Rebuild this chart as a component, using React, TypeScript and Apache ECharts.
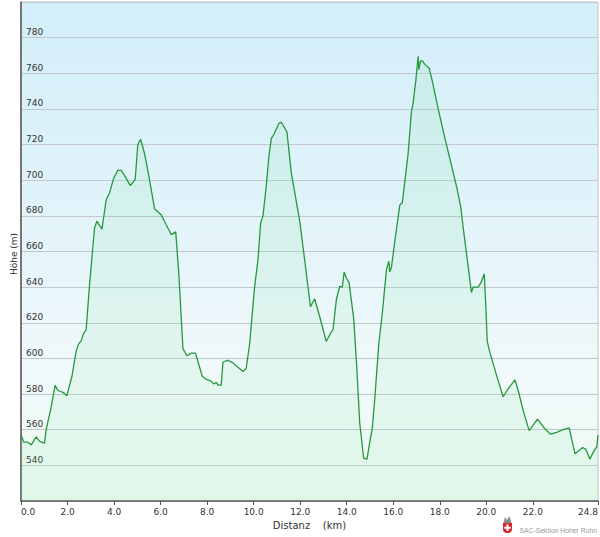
import React, { useEffect, useRef } from "react";
import * as echarts from "echarts";

const distanceKm = [
  0, 0.12, 0.29, 0.44, 0.65, 0.8, 1.01, 1.08, 1.27, 1.47, 1.58, 1.8, 1.97, 2.19, 2.37, 2.47, 2.59, 2.69, 2.8, 2.95,
  3.16, 3.26, 3.48, 3.66, 3.81, 3.98, 4.16, 4.31, 4.48, 4.7, 4.91, 5.02, 5.14, 5.31, 5.5, 5.74, 6.03, 6.24, 6.46, 6.65,
  6.79, 6.96, 7.13, 7.32, 7.5, 7.79, 7.96, 8.18, 8.28, 8.39, 8.47, 8.61, 8.68, 8.9, 9.11, 9.54, 9.68, 9.83, 10.04, 10.19,
  10.3, 10.4, 10.54, 10.66, 10.76, 10.86, 11.09, 11.19, 11.26, 11.43, 11.62, 11.98, 12.19, 12.44, 12.62, 12.87, 13.12, 13.34, 13.41, 13.56,
  13.7, 13.81, 13.89, 13.99, 14.1, 14.3, 14.42, 14.56, 14.73, 14.87, 14.99, 15.1, 15.2, 15.38, 15.53, 15.71, 15.81, 15.85, 15.92, 16.07,
  16.28, 16.39, 16.54, 16.64, 16.78, 16.85, 16.97, 17.07, 17.1, 17.17, 17.25, 17.36, 17.54, 17.68, 17.93, 18.22, 18.5, 18.72, 18.9, 19.0,
  19.22, 19.36, 19.43, 19.65, 19.79, 19.91, 19.98, 20.04, 20.15, 20.44, 20.72, 20.94, 21.23, 21.37, 21.58, 21.84, 22.2, 22.52, 22.76, 23.02,
  23.3, 23.56, 23.81, 24.14, 24.28, 24.45, 24.62, 24.75, 24.8,
];

const elevationM = [
  557, 553, 553, 551.5, 556, 553.5, 552.5, 560, 571, 585, 582, 581, 579, 590, 604, 608, 610, 614, 616, 642,
  673, 677, 672.5, 689, 693, 701, 705.5, 705.5, 702, 697, 700.5, 720, 723, 715, 702, 684, 680.5, 675, 669.5, 671,
  646, 605.5, 601.5, 603, 603, 590, 588.3, 587.3, 585.7, 586.5, 585, 585, 598, 599, 597.5, 592.7, 594.5, 608.5, 640, 656,
  676, 680, 696.5, 714, 723.5, 725.5, 732, 732.5, 731, 727, 704, 677, 655.5, 629, 633.5, 622, 609.5, 615, 616, 633.5,
  640.5, 640, 648.5, 645, 642.5, 622.5, 597.5, 563.5, 544, 543.5, 553, 561, 576.5, 608.5, 625.5, 650, 654.5, 648.5, 651, 666,
  686, 687.5, 704, 715, 738.5, 743, 756, 769.5, 762, 767, 767, 765, 763, 755.5, 740, 723.5, 708.5, 696.5, 685, 674,
  651.5, 637, 640, 640, 643, 647.5, 629, 609.5, 603.5, 590.5, 578.5, 583, 588, 582, 571, 559.5, 566, 560.5, 557.5, 558.5,
  560, 561, 546.5, 550, 549, 543.5, 548, 550.5, 557,
];

const xTickValues = [0, 2, 4, 6, 8, 10, 12, 14, 16, 18, 20, 22, 24.8];
const yMin = 520;
const yMax = 800;
const yStep = 20;
const xMax = 24.8;

const FONT = "DejaVu Sans";

export default function App() {
  const ref = useRef<HTMLDivElement>(null);

  useEffect(() => {
    if (!ref.current) return;
    const chart = echarts.init(ref.current, null, { renderer: "svg" });
    const data = distanceKm.map((d, i) => [d, elevationM[i]]);

    chart.setOption({
      animation: false,
      backgroundColor: "#ffffff",
      grid: {
        left: 21,
        right: 2,
        top: 2,
        bottom: 36,
        outerBoundsMode: "none",
        containLabel: false,
        show: true,
        borderColor: "#c4c4c4",
        borderWidth: 1,
        backgroundColor: new echarts.graphic.LinearGradient(0, 0, 0, 1, [
          { offset: 0, color: "#d2eef9" },
          { offset: 0.45, color: "#e3f4fa" },
          { offset: 0.75, color: "#f1f9fb" },
          { offset: 1, color: "#ecfaf1" },
        ]),
      },
      xAxis: {
        type: "value",
        min: 0,
        max: xMax,
        interval: 2,
        name: "Distanz    (km)",
        nameLocation: "middle",
        nameGap: 19,
        nameTextStyle: { fontFamily: FONT, fontSize: 10, color: "#333" },
        axisLine: { show: true, lineStyle: { color: "#555", width: 1.5 } },
        axisTick: { show: true, length: 4, customValues: xTickValues, lineStyle: { color: "#555" } },
        axisLabel: {
          customValues: xTickValues,
          formatter: (v: number) => v.toFixed(1),
          fontFamily: FONT,
          fontSize: 9,
          color: "#333",
          margin: 6,
          alignMinLabel: "left",
          alignMaxLabel: "right",
        },
        splitLine: { show: false },
      },
      yAxis: {
        type: "value",
        min: yMin,
        max: yMax,
        interval: yStep,
        axisLine: { show: true, lineStyle: { color: "#555", width: 1.5 } },
        axisTick: { show: false },
        axisLabel: {
          inside: true,
          margin: 5,
          verticalAlign: "bottom",
          padding: [0, 0, 1, 0],
          fontFamily: FONT,
          fontSize: 9,
          color: "#333",
          formatter: (v: number) => (v === yMin || v === yMax ? "" : String(v)),
        },
        splitLine: { show: true, lineStyle: { color: "#c3c8cc", width: 1 } },
      },
      series: [
        {
          type: "line",
          data,
          showSymbol: false,
          symbol: "none",
          lineStyle: { color: "#25993c", width: 1.3 },
          areaStyle: {
            origin: "start",
            color: new echarts.graphic.LinearGradient(0, 0, 0, 1, [
              { offset: 0, color: "rgba(130,220,160,0.22)" },
              { offset: 1, color: "rgba(130,225,160,0.16)" },
            ]),
          },
          z: 3,
        },
      ],
      graphic: [
        {
          type: "text",
          x: 14,
          y: 254,
          rotation: Math.PI / 2,
          style: {
            text: "Höhe (m)",
            fontFamily: FONT,
            fontSize: 9,
            fill: "#333",
            align: "center",
            verticalAlign: "middle",
          },
        },
        {
          type: "group",
          left: 503,
          top: 516,
          children: [
            {
              type: "polygon",
              shape: { points: [[1, 7], [2.5, 1], [4.5, 4], [7, 0], [9, 7]] },
              style: { fill: "#8c8c8c" },
            },
            {
              type: "rect",
              shape: { x: 0.5, y: 7, width: 9, height: 10, r: [0, 0, 4, 4] },
              style: { fill: "#d8262e" },
            },
            { type: "rect", shape: { x: 4, y: 8.5, width: 2, height: 6.5 }, style: { fill: "#ffffff" } },
            { type: "rect", shape: { x: 1.8, y: 10.7, width: 6.4, height: 2 }, style: { fill: "#ffffff" } },
          ],
        },
        {
          type: "text",
          x: 597,
          y: 530,
          style: {
            text: "SAC-Sektion Hoher Rohn",
            fontFamily: "Liberation Sans",
            fontSize: 6.8,
            fill: "#9a9a9a",
            align: "right",
            verticalAlign: "middle",
          },
        },
      ],
    });

    return () => chart.dispose();
  }, []);

  return (
    <div
      ref={ref}
      style={{ position: "fixed", left: 0, top: 0, width: 600, height: 537, background: "#fff" }}
    />
  );
}
